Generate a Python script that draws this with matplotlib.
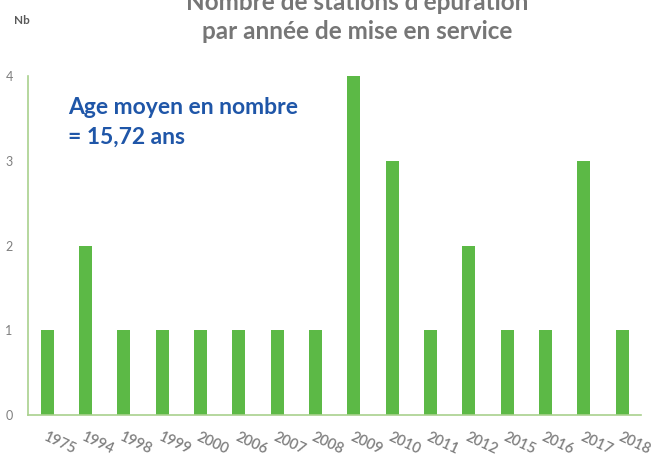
import matplotlib.pyplot as plt
import numpy as np

annees = ["1975", "1994", "1998", "1999", "2000", "2006", "2007", "2008",
          "2009", "2010", "2011", "2012", "2015", "2016", "2017", "2018"]
nombre = [1, 2, 1, 1, 1, 1, 1, 1, 4, 3, 1, 2, 1, 1, 3, 1]
y_ticks = [0, 1, 2, 3, 4]

plt.rcParams['font.family'] = ['Lato', 'DejaVu Sans']

fig = plt.figure(figsize=(6.51, 4.59), dpi=100)
ax = fig.add_axes([0.043, 0.096, 0.942, 0.738])

x = np.arange(len(annees))
ax.bar(x, nombre, width=0.34, color="#5cb946")

ax.set_xlim(-0.5, len(annees) - 0.5)
ax.set_ylim(0, 4)
ax.set_yticks(y_ticks)
ax.set_xticks(x)
ax.set_xticklabels(annees, rotation=-25, ha="left", rotation_mode="anchor",
                   fontsize=10.5, color="#7f7f7f", fontweight="semibold")
ax.tick_params(axis="y", length=0, labelsize=9, labelcolor="#7f7f7f", pad=11)
ax.tick_params(axis="x", length=0, pad=11)

for s in ["top", "right"]:
    ax.spines[s].set_visible(False)
for s in ["left", "bottom"]:
    ax.spines[s].set_color("#a9d18e")
    ax.spines[s].set_linewidth(1.2)

# titre coupé en haut comme dans l'original
fig.text(0.548, 1.02, "Nombre de stations d'épuration\npar année de mise en service",
         ha="center", va="top", fontsize=17.5, fontweight="bold", color="#767676",
         linespacing=1.3)
fig.text(0.034, 0.955, "Nb", ha="center", va="center", fontsize=8.5,
         fontweight="bold", color="#595959")

ax.text(0.065, 0.94, "Age moyen en nombre\n= 15,72 ans", transform=ax.transAxes,
        ha="left", va="top", fontsize=16.5, fontweight="bold", color="#1f56a8",
        linespacing=1.55)

fig.savefig("out.png", dpi=100)
